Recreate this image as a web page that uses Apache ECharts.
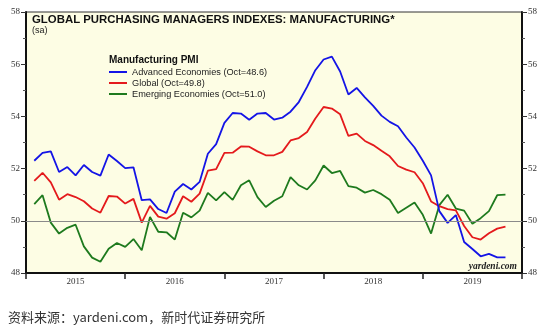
<!DOCTYPE html>
<html>
<head>
<meta charset="utf-8">
<script src="https://cdn.jsdelivr.net/npm/echarts@6/dist/echarts.min.js"></script>
<style>
html,body{margin:0;padding:0;background:#fff;}
#chart{width:550px;height:332px;}
</style>
</head>
<body>
<div id="chart"></div>
<script>
// Monthly data, Jan 2015 .. Oct 2019
const startYear = 2015;
const yearLabels = ['2015', '2016', '2017', '2018', '2019'];
const advanced = [
  52.3, 52.6, 52.66, 51.87, 52.06, 51.74, 52.14, 51.87, 51.73, 52.54, 52.29, 52.02,
  52.05, 50.79, 50.82, 50.45, 50.30, 51.12, 51.41, 51.2, 51.49, 52.57, 52.94, 53.75,
  54.13, 54.11, 53.87, 54.11, 54.13, 53.88, 53.95, 54.18, 54.55, 55.13, 55.77, 56.18,
  56.29, 55.72, 54.84, 55.09, 54.73, 54.40, 54.03, 53.79, 53.62, 53.19, 52.81, 52.3,
  51.74, 50.37, 49.92, 50.22, 49.19, 48.92, 48.64, 48.73, 48.6, 48.6
];
const globalPmi = [
  51.53, 51.84, 51.47, 50.81, 51.02, 50.91, 50.75, 50.47, 50.31, 50.95, 50.93, 50.66,
  50.84, 49.93, 50.57, 50.16, 50.08, 50.29, 50.94, 50.73, 51.04, 51.92, 51.98, 52.60,
  52.61, 52.85, 52.84, 52.66, 52.51, 52.51, 52.64, 53.08, 53.17, 53.40, 53.92, 54.36,
  54.30, 54.08, 53.25, 53.34, 53.06, 52.90, 52.68, 52.47, 52.10, 51.96, 51.86, 51.44,
  50.74, 50.56, 50.45, 50.40, 49.8, 49.37, 49.28, 49.52, 49.70, 49.78
];
const emerging = [
  50.64, 50.98, 49.93, 49.51, 49.73, 49.85, 49.02, 48.59, 48.43, 48.93, 49.15, 49.0,
  49.30, 48.87, 50.15, 49.58, 49.56, 49.28, 50.31, 50.13, 50.39, 51.07, 50.78, 51.10,
  50.80, 51.36, 51.55, 50.91, 50.53, 50.77, 50.94, 51.67, 51.36, 51.20, 51.55, 52.12,
  51.83, 51.91, 51.33, 51.27, 51.08, 51.18, 51.02, 50.81, 50.30, 50.50, 50.70, 50.23,
  49.51, 50.60, 51.0, 50.47, 50.39, 49.89, 50.10, 50.37, 50.98, 51.0
];
const seriesNames = ['Advanced Economies (Oct=48.6)', 'Global (Oct=49.8)', 'Emerging Economies (Oct=51.0)'];
const yTicks = [48, 50, 52, 54, 56, 58];

// month-end positions on a fractional-year axis
function toPairs(arr) {
  return arr.map((v, i) => [startYear + (i + 1) / 12, v]);
}

const chart = echarts.init(document.getElementById('chart'));
const serifFont = 'Liberation Serif';
const sansFont = 'Liberation Sans';

const yAxisCommon = {
  type: 'value',
  min: yTicks[0],
  max: yTicks[yTicks.length - 1],
  interval: 2,
  axisLine: { show: true, lineStyle: { color: '#111', width: 2 } },
  axisTick: { show: true, inside: false, length: 5, lineStyle: { color: '#333', width: 1 } },
  minorTick: { show: true, splitNumber: 2, length: 3, lineStyle: { color: '#555', width: 1 } },
  splitLine: { show: false },
  axisLabel: { fontFamily: serifFont, fontSize: 9, color: '#333', margin: 6 }
};

const option = {
  backgroundColor: '#ffffff',
  animation: false,
  title: [
    { text: 'GLOBAL PURCHASING MANAGERS INDEXES: MANUFACTURING*', left: 32, top: 14, padding: 0,
      textStyle: { fontFamily: sansFont, fontWeight: 'bold', fontSize: 11.4, color: '#111' } },
    { text: '(sa)', left: 32, top: 26.5, padding: 0,
      textStyle: { fontFamily: sansFont, fontWeight: 'normal', fontSize: 9, color: '#222' } },
    { text: 'Manufacturing PMI', left: 109, top: 55, padding: 0,
      textStyle: { fontFamily: sansFont, fontWeight: 'bold', fontSize: 10, color: '#111' } },
    { text: '资料来源：yardeni.com，新时代证券研究所', left: 8, top: 311, padding: 0,
      textStyle: { fontFamily: 'Noto Sans CJK SC', fontWeight: 'normal', fontSize: 13, color: '#333' } }
  ],
  legend: {
    orient: 'vertical',
    left: 109,
    top: 66.5,
    padding: 0,
    itemGap: 0,
    itemWidth: 18,
    itemHeight: 2,
    icon: 'rect',
    data: seriesNames,
    textStyle: { fontFamily: sansFont, fontSize: 9.2, color: '#222', lineHeight: 11, padding: [0, 0, 0, 0] }
  },
  grid: {
    left: 26, right: 28, top: 12, bottom: 59,
    show: true,
    backgroundColor: '#FDFDE4',
    borderColor: '#333',
    borderWidth: 1
  },
  xAxis: [
    {
      type: 'value', min: startYear, max: startYear + yearLabels.length, interval: 1,
      show: false, position: 'bottom'
    },
    {
      type: 'category', data: yearLabels, boundaryGap: true, position: 'bottom',
      axisLine: { show: true, lineStyle: { color: '#111', width: 2 } },
      axisTick: { show: true, inside: false, length: 6, lineStyle: { color: '#222', width: 1.5 } },
      axisLabel: { fontFamily: serifFont, fontSize: 9, color: '#333', margin: 4 },
      splitLine: { show: false }
    }
  ],
  yAxis: [
    Object.assign({}, yAxisCommon, { position: 'left' }),
    Object.assign({}, yAxisCommon, { position: 'right' })
  ],
  graphic: [
    { type: 'text', right: 33, top: 262,
      style: { text: 'yardeni.com', font: 'italic bold 9.5px "Liberation Serif"', fill: '#222' } }
  ],
  series: [
    {
      name: seriesNames[0], type: 'line', xAxisIndex: 0, yAxisIndex: 0,
      data: toPairs(advanced), showSymbol: false, symbol: 'none',
      lineStyle: { color: '#1414E6', width: 1.8 }, itemStyle: { color: '#1414E6' }, z: 4,
      markLine: {
        silent: true, symbol: 'none', label: { show: false },
        lineStyle: { color: '#8a8a8a', width: 1, type: 'solid' },
        data: [{ yAxis: 50 }]
      }
    },
    {
      name: seriesNames[1], type: 'line', xAxisIndex: 0, yAxisIndex: 0,
      data: toPairs(globalPmi), showSymbol: false, symbol: 'none',
      lineStyle: { color: '#E41A1C', width: 1.8 }, itemStyle: { color: '#E41A1C' }, z: 3
    },
    {
      name: seriesNames[2], type: 'line', xAxisIndex: 0, yAxisIndex: 0,
      data: toPairs(emerging), showSymbol: false, symbol: 'none',
      lineStyle: { color: '#1E7A1E', width: 1.8 }, itemStyle: { color: '#1E7A1E' }, z: 2
    }
  ]
};
chart.setOption(option);
</script>
</body>
</html>
